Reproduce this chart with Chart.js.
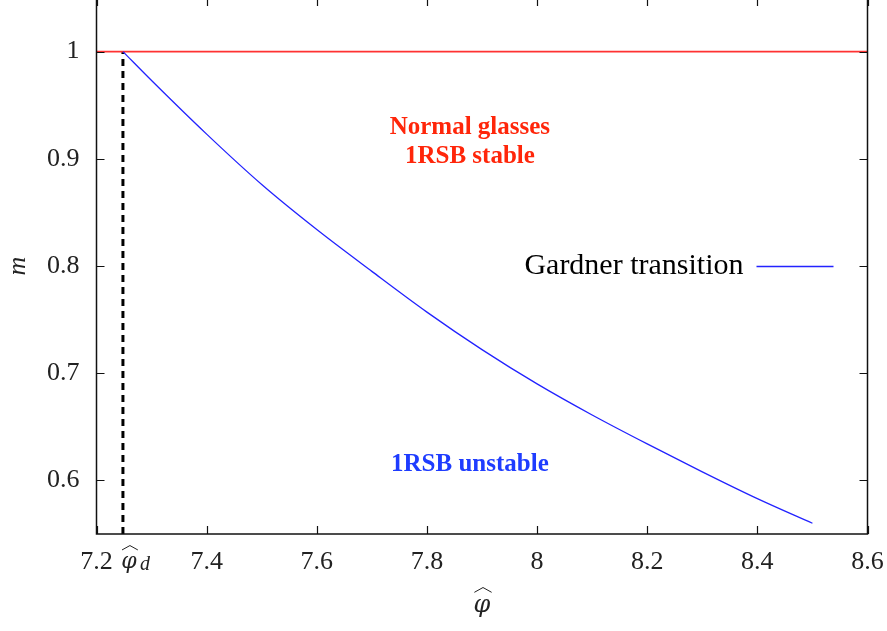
<!DOCTYPE html>
<html>
<head>
<meta charset="utf-8">
<script src="https://cdn.jsdelivr.net/npm/chart.js@4.4.0/dist/chart.umd.min.js"></script>
<style>
  html, body { margin: 0; padding: 0; background: #fff; overflow: hidden; }
  #wrap { position: absolute; left: 0; top: -2px; width: 887px; height: 633px; }
</style>
</head>
<body>
<div id="wrap"><canvas id="gardner"></canvas></div>

<script type="text/javascript">

// values
const phiD = 7.248;
const phiVals = [7.248, 7.3, 7.4, 7.5, 7.6, 7.7, 7.8, 7.9, 8.0, 8.1, 8.2, 8.3, 8.4, 8.5];
const mVals   = [1.000, 0.973, 0.923, 0.876, 0.834, 0.795, 0.757, 0.722, 0.690, 0.661, 0.634, 0.608, 0.583, 0.560];
const xTicks = [7.2, 7.4, 7.6, 7.8, 8.0, 8.2, 8.4, 8.6];
const yTicks = [0.6, 0.7, 0.8, 0.9, 1.0];
const xRange = [7.2, 8.6];
const yRange = [0.55, 1.05];

const serif = "'Liberation Serif', 'Times New Roman', serif";
const greek = "'DejaVu Serif', serif";
const red = 'rgb(255,50,50)';
const blue = 'rgb(35,35,255)';

const gardner = phiVals.map((p, i) => ({ x: p, y: mVals[i] }));

function zeroPad(s) {
  s.paddingLeft = 0; s.paddingRight = 0; s.paddingTop = 0; s.paddingBottom = 0;
}

// phi with a wide hat, centred on x, baseline y
function hatPhi(ctx, x, y, size) {
  ctx.font = 'italic ' + size + 'px ' + greek;
  ctx.textAlign = 'center';
  ctx.textBaseline = 'alphabetic';
  ctx.fillText('\u03C6', x, y);
  const w = size * 0.36, top = y - size * 1.02, h = size * 0.2;
  ctx.save();
  ctx.lineWidth = 1;
  ctx.strokeStyle = ctx.fillStyle;
  ctx.beginPath();
  ctx.moveTo(x - w + 1, top + h);
  ctx.lineTo(x + 1, top);
  ctx.lineTo(x + w + 1, top + h);
  ctx.stroke();
  ctx.restore();
}

// inner ticks, frame, phi labels, region labels and legend
const decor = {
  id: 'decor',
  afterDraw(chart) {
    const ctx = chart.ctx;
    const a = chart.chartArea;
    const xs = chart.scales.x, ys = chart.scales.y;
    ctx.save();
    ctx.strokeStyle = '#111';
    ctx.lineWidth = 1.5;
    ctx.strokeRect(a.left, a.top, a.right - a.left, a.bottom - a.top);
    ctx.lineWidth = 1.2;
    xTicks.forEach(v => {
      const px = Math.round(xs.getPixelForValue(v)) + 0.5;
      ctx.beginPath();
      ctx.moveTo(px, a.bottom); ctx.lineTo(px, a.bottom - 8);
      ctx.moveTo(px, a.top); ctx.lineTo(px, a.top + 8);
      ctx.stroke();
    });
    yTicks.forEach(v => {
      const py = Math.round(ys.getPixelForValue(v)) + 0.5;
      ctx.beginPath();
      ctx.moveTo(a.left, py); ctx.lineTo(a.left + 8, py);
      ctx.moveTo(a.right, py); ctx.lineTo(a.right - 8, py);
      ctx.stroke();
    });

    ctx.fillStyle = '#222';
    // phi_d tick label
    const pdx = xs.getPixelForValue(phiD);
    hatPhi(ctx, pdx + 6, a.bottom + 34, 22);
    ctx.font = 'italic 20px ' + serif;
    ctx.textAlign = 'left';
    ctx.fillText('d', pdx + 17, a.bottom + 36);

    // x axis title
    hatPhi(ctx, (a.left + a.right) / 2, a.bottom + 78, 24);

    // y axis title
    ctx.save();
    ctx.translate(18, ys.getPixelForValue(0.8));
    ctx.rotate(-Math.PI / 2);
    ctx.textAlign = 'center';
    ctx.textBaseline = 'middle';
    ctx.font = 'italic 26px ' + serif;
    ctx.fillText('m', 0, 0);
    ctx.restore();

    // region labels
    ctx.textAlign = 'center';
    ctx.textBaseline = 'middle';
    ctx.font = 'bold 25px ' + serif;
    ctx.fillStyle = 'rgb(255,38,10)';
    const cx = xs.getPixelForValue(7.878);
    ctx.fillText('Normal glasses', cx, ys.getPixelForValue(0.929));
    ctx.fillText('1RSB stable', cx, ys.getPixelForValue(0.902));
    ctx.fillStyle = 'rgb(30,60,255)';
    ctx.fillText('1RSB unstable', cx, ys.getPixelForValue(0.6146));

    // legend
    const ly = ys.getPixelForValue(0.8);
    ctx.font = '30px ' + serif;
    ctx.fillStyle = '#000';
    ctx.textAlign = 'right';
    ctx.fillText('Gardner transition', a.right - 124, ly);
    ctx.strokeStyle = blue;
    ctx.lineWidth = 1.3;
    ctx.beginPath();
    ctx.moveTo(a.right - 111, ly + 0.5);
    ctx.lineTo(a.right - 34, ly + 0.5);
    ctx.stroke();
    ctx.restore();
  }
};

const ctxG = document.getElementById('gardner').getContext('2d');
new Chart(ctxG, {
  type: 'line',
  data: {
    datasets: [
      {
        label: 'Gardner transition',
        data: gardner,
        borderColor: blue,
        borderWidth: 1.3,
        pointRadius: 0,
        cubicInterpolationMode: 'monotone'
      },
      {
        label: 'm = 1',
        data: [{ x: xRange[0], y: 1 }, { x: xRange[1], y: 1 }],
        borderColor: red,
        borderWidth: 1.6,
        pointRadius: 0
      },
      {
        label: 'phi_d',
        data: [{ x: phiD, y: yRange[0] }, { x: phiD, y: 1 }],
        borderColor: '#000',
        borderWidth: 3,
        borderDash: [7, 5],
        pointRadius: 0
      }
    ]
  },
  options: {
    responsive: true,
    maintainAspectRatio: false,
    animation: false,
    layout: { padding: { top: 0, right: 19.5, left: 0, bottom: 0 } },
    plugins: { legend: { display: false }, tooltip: { enabled: false } },
    scales: {
      x: {
        type: 'linear',
        min: xRange[0],
        max: xRange[1],
        afterBuildTicks: s => { s.ticks = xTicks.map(v => ({ value: v })); },
        afterFit: s => { s.height = 97; zeroPad(s); },
        grid: { display: false, drawTicks: false },
        border: { display: false },
        ticks: {
          autoSkip: false,
          maxRotation: 0,
          padding: 13,
          color: '#222',
          font: { family: serif, size: 26 },
          callback: v => String(Math.round(v * 10) / 10)
        }
      },
      y: {
        type: 'linear',
        min: yRange[0],
        max: yRange[1],
        afterBuildTicks: s => { s.ticks = yTicks.map(v => ({ value: v })); },
        afterFit: s => { s.width = 96.5; zeroPad(s); },
        grid: { display: false, drawTicks: false },
        border: { display: false },
        ticks: {
          padding: 17,
          color: '#222',
          font: { family: serif, size: 26 },
          callback: v => String(Math.round(v * 10) / 10)
        }
      }
    }
  },
  plugins: [decor]
});
</script>
</body>
</html>
